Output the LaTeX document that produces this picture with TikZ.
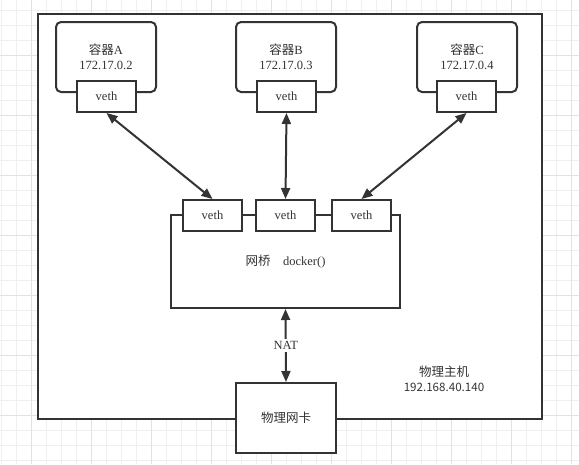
\documentclass[tikz,border=0pt]{standalone}
\usepackage{fontspec}
\setmainfont{Liberation Serif}
\newfontfamily\cjk{Noto Sans CJK SC}
\usepackage{tikz}
\usetikzlibrary{positioning, arrows.meta}

\definecolor{ink}{HTML}{333333}
\definecolor{gridminor}{HTML}{EFEFEF}
\definecolor{gridmajor}{HTML}{E2E2E2}

\tikzset{
    box/.style={draw=ink, line width=2pt, fill=white, text=ink, align=center,
                inner sep=0pt, font=\fontsize{12.5}{15.5}\selectfont},
    container/.style={box, rounded corners=5pt, minimum width=100, minimum height=70},
    vethbox/.style={box, minimum width=59, minimum height=31},
    link/.style={draw=ink, line width=2pt, {Triangle[length=11pt,width=9pt]}-{Triangle[length=11pt,width=9pt]}}
}

\begin{document}
\begin{tikzpicture}[x=1pt, y=-1pt]
    \useasboundingbox (0,0) rectangle (579,464);
    % grid
    \foreach \gx in {1.7,16.7,...,579} {
        \draw[gridminor, line width=0.8pt] (\gx,0) -- (\gx,464);
    }
    \foreach \gy in {10,25,...,464} {
        \draw[gridminor, line width=0.8pt] (0,\gy) -- (579,\gy);
    }
    \foreach \gx in {31.7,91.7,...,579} {
        \draw[gridmajor, line width=0.8pt] (\gx,0) -- (\gx,464);
    }
    \foreach \gy in {55,115,...,464} {
        \draw[gridmajor, line width=0.8pt] (0,\gy) -- (579,\gy);
    }

    % host
    \node[box, minimum width=504, minimum height=405, anchor=north west] (host) at (37,13) {};
    \node[text=ink, align=center, font=\cjk\fontsize{12.5}{15.5}\selectfont] (hostlabel) at (444,379) {物理主机\\{\fontsize{11.6}{14}\selectfont 192.168.40.140}};

    % containers
    \node[container] (ctrA) at (106,57) {{\cjk 容器}A\\172.17.0.2};
    \node[container] (ctrB) at (286,57) {{\cjk 容器}B\\172.17.0.3};
    \node[container] (ctrC) at (467,57) {{\cjk 容器}C\\172.17.0.4};
    \node[vethbox] (vethA) at (106.5,96.5) {veth};
    \node[vethbox] (vethB) at (286.5,96.5) {veth};
    \node[vethbox] (vethC) at (466.5,96.5) {veth};

    % bridge
    \node[box, minimum width=229, minimum height=93] (bridge) at (285.5,261.5) {{\cjk 网桥}\quad docker()};
    \node[vethbox] (brA) at (212.5,215.5) {veth};
    \node[vethbox] (brB) at (285.5,215.5) {veth};
    \node[vethbox] (brC) at (361.5,215.5) {veth};

    % physical nic
    \node[box, minimum width=100, minimum height=70, font=\cjk\fontsize{12.5}{15.5}\selectfont] (nic) at (286,418) {物理网卡};

    % links
    \draw[link] (vethA.south) -- (brA.north);
    \draw[link] (vethB.south) -- (brB.north);
    \draw[link] (vethC.south) -- (brC.north);
    \draw[link] (bridge.south) -- node[fill=white, text=ink, inner sep=2pt, font=\fontsize{12.5}{15}\selectfont] {NAT} (nic.north);
\end{tikzpicture}
\end{document}
